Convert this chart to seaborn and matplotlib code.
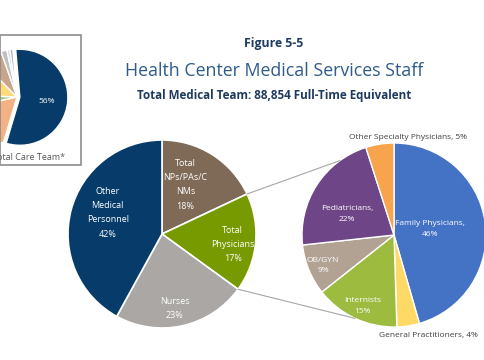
import numpy as np
import matplotlib
matplotlib.use("Agg")
import matplotlib.pyplot as plt
from matplotlib.patches import ConnectionPatch, Rectangle
import seaborn as sns

# --- data ---------------------------------------------------------------
team_labels = ["Total\nNPs/PAs/C\nNMs", "Total\nPhysicians", "Nurses",
               "Other\nMedical\nPersonnel"]
team_pct = [18, 17, 23, 42]
team_colors = ["#7e6a57", "#779a00", "#aaa7a5", "#063b6a"]

phys_labels = ["Family Physicians,", "General Practitioners,", "Internists",
               "OB/GYN", "Pediatricians,", "Other Specialty Physicians,"]
phys_pct = [46, 4, 15, 9, 22, 5]
phys_colors = ["#4472c4", "#ffd966", "#9cbb3f", "#b1a294", "#6e4587", "#f8a44c"]
phys_inside = [True, False, True, True, True, False]

care_pct = [56, 17, 4, 12, 7, 2, 1, 1]
care_colors = ["#063b6a", "#f4b183", "#a9c47f", "#ffd97a", "#c8a58a",
               "#bfbfbf", "#d9d9d9", "#a6b4c8"]

sns.set_theme(style="white")
plt.rcParams["font.family"] = ["Open Sans", "Noto Sans", "DejaVu Sans"]

W, H = 485, 360
fig = plt.figure(figsize=(W / 100, H / 100), dpi=100)


def px_axes(cx, cy, r):
    # axes whose unit circle sits at pixel centre (cx, cy), radius r
    ax = fig.add_axes([(cx - r) / W, (H - cy - r) / H, 2 * r / W, 2 * r / H])
    return ax


def finish(ax):
    ax.set_xlim(-1, 1)
    ax.set_ylim(-1, 1)
    ax.set_aspect("equal")
    ax.axis("off")


def mid(w):
    return np.deg2rad((w.theta1 + w.theta2) / 2)


# --- main pie ---------------------------------------------------------------
ax1 = px_axes(162, 234, 94)
w1, _ = ax1.pie(team_pct, colors=team_colors, startangle=90, counterclock=False,
                wedgeprops=dict(edgecolor="white", linewidth=1.2))
lab_r = [0.58, 0.76, 0.8, 0.62]
lab_dt = [7, -3, -3, -7]
for w, lab, p, r, dt in zip(w1, team_labels, team_pct, lab_r, lab_dt):
    a = mid(w) + np.deg2rad(dt)
    ax1.text(r * np.cos(a), r * np.sin(a), f"{lab}\n{p}%", color="white",
             ha="center", va="center", fontsize=6.5, linespacing=1.75)
finish(ax1)

# --- physicians breakdown -------------------------------------------------
ax2 = px_axes(394, 235, 92)
w2, _ = ax2.pie(phys_pct, colors=phys_colors, startangle=90, counterclock=False,
                wedgeprops=dict(edgecolor="white", linewidth=1.0))
lab_r = [0.4, 1.16, 0.84, 0.84, 0.56, 1.07]
lab_dt = [1, 10, 1, 1, 9, -17]
for w, lab, p, r, dt, inside in zip(w2, phys_labels, phys_pct, lab_r, lab_dt, phys_inside):
    a = mid(w) + np.deg2rad(dt)
    if inside:
        ax2.text(r * np.cos(a), r * np.sin(a), f"{lab}\n{p}%", color="white",
                 ha="center", va="center", fontsize=6, linespacing=1.75)
    else:
        ax2.text(r * np.cos(a), r * np.sin(a), f"{lab} {p}%", color="#404040",
                 ha="center", va="center", fontsize=6, clip_on=False)
finish(ax2)

# connector lines from the physicians wedge to the breakdown pie
ends = [126, -115]
for th, te in zip([w1[1].theta1, w1[1].theta2][::-1], ends):
    a, b = np.deg2rad(th), np.deg2rad(te)
    con = ConnectionPatch(xyA=(np.cos(a), np.sin(a)), coordsA=ax1.transData,
                          xyB=(np.cos(b), np.sin(b)), coordsB=ax2.transData,
                          color="#a6a6a6", lw=0.8)
    fig.add_artist(con)

# --- inset: total care team -----------------------------------------------
ax3 = px_axes(17, 97, 48)
w3, _ = ax3.pie(care_pct, colors=care_colors, startangle=95, counterclock=False,
                explode=[0.06] + [0] * (len(care_pct) - 1),
                wedgeprops=dict(edgecolor="white", linewidth=1.0))
a = mid(w3[0])
ax3.text(0.62 * np.cos(a), 0.62 * np.sin(a) - 0.03,
         f"{care_pct[0]}%", color="white", ha="center", va="center", fontsize=6)
finish(ax3)
fig.add_artist(Rectangle((0, (H - 165) / H), 81 / W, 130 / H,
                         transform=fig.transFigure, fill=False,
                         edgecolor="#8c8c8c", lw=1.2))
fig.text(29 / W, 1 - 157 / H, "Total Care Team*", color="#595959",
         ha="center", va="center", fontsize=6.5)

# --- titles ---------------------------------------------------------------
fig.text(274 / W, 1 - 44 / H, "Figure 5-5", color="#1f3a5f",
         fontsize=8.8, fontweight="bold", ha="center", va="center")
fig.text(274 / W, 1 - 71 / H, "Health Center Medical Services Staff",
         color="#2e5b8a", fontsize=12.8, ha="center", va="center")
fig.text(274 / W, 1 - 95 / H, "Total Medical Team: 88,854 Full-Time Equivalent",
         color="#1f3a5f", fontsize=8.4, fontweight="bold", ha="center", va="center")

fig.savefig("out.png", dpi=100, facecolor="white")
